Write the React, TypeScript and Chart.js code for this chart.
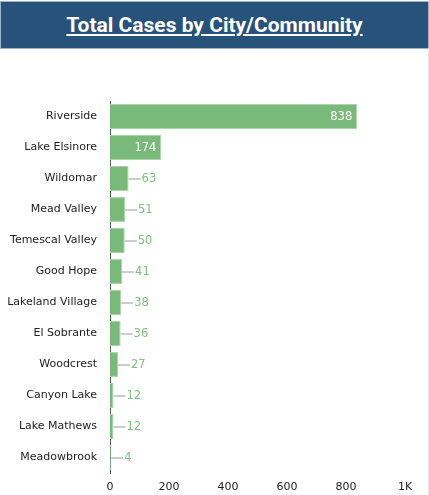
import React, { useEffect, useRef } from "react";
import { Chart, registerables } from "chart.js";
Chart.register(...registerables);

const title = "Total Cases by City/Community";
const cities = [
  "Riverside",
  "Lake Elsinore",
  "Wildomar",
  "Mead Valley",
  "Temescal Valley",
  "Good Hope",
  "Lakeland Village",
  "El Sobrante",
  "Woodcrest",
  "Canyon Lake",
  "Lake Mathews",
  "Meadowbrook",
];
const cases = [838, 174, 63, 51, 50, 41, 38, 36, 27, 12, 12, 4];
const xMin = 0;
const xMax = 1000;
const xStep = 200;

const BAR = "#79b979";
const LABEL_FONT = "11.5px 'DejaVu Sans'";

const labelPlugin = {
  id: "barLabels",
  afterDatasetsDraw(chart: any) {
    const ctx = chart.ctx;
    const meta = chart.getDatasetMeta(0);
    ctx.save();
    ctx.font = LABEL_FONT;
    ctx.textBaseline = "middle";
    meta.data.forEach((bar: any, i: number) => {
      const text = String(cases[i]);
      const w = ctx.measureText(text).width;
      const barW = bar.x - bar.base;
      if (barW > w + 14) {
        ctx.fillStyle = "#ffffff";
        ctx.textAlign = "right";
        ctx.fillText(text, bar.x - 5, bar.y + 1);
      } else {
        ctx.strokeStyle = "#bdbdbd";
        ctx.lineWidth = 1.5;
        ctx.beginPath();
        ctx.moveTo(bar.x, bar.y + 0.5);
        ctx.lineTo(bar.x + 12, bar.y + 0.5);
        ctx.stroke();
        ctx.fillStyle = "#7cc27c";
        ctx.textAlign = "left";
        ctx.fillText(text, bar.x + 13, bar.y + 1);
      }
    });
    ctx.restore();
  },
};

export default function App() {
  const ref = useRef<HTMLCanvasElement>(null);
  useEffect(() => {
    if (!ref.current) return;
    const chart = new Chart(ref.current, {
      type: "bar",
      data: {
        labels: cities,
        datasets: [
          {
            data: cases,
            backgroundColor: BAR,
            borderColor: "#a9d6a9",
            borderWidth: 1,
            categoryPercentage: 0.8,
            barPercentage: 1,
          },
        ],
      },
      options: {
        indexAxis: "y",
        animation: false,
        responsive: false,
        maintainAspectRatio: false,
        layout: { padding: { top: 53, right: 24, bottom: 0, left: 0 } },
        plugins: {
          legend: { display: false },
          tooltip: { enabled: false },
        },
        scales: {
          x: {
            min: xMin,
            max: xMax,
            grid: { display: false, drawTicks: false },
            border: { display: false },
            ticks: {
              stepSize: xStep,
              padding: 8,
              color: "#222",
              font: { family: "'DejaVu Sans'", size: 11 },
              callback: (v: any) => (v >= 1000 ? v / 1000 + "K" : String(v)),
            },
            afterFit: (s: any) => {
              s.height = 22;
            },
          },
          y: {
            grid: { display: false, drawTicks: false },
            border: { display: true, color: "#555", width: 1 },
            ticks: {
              padding: 13,
              color: "#222",
              font: { family: "'DejaVu Sans'", size: 11 },
            },
            afterFit: (s: any) => {
              s.width = 110;
            },
          },
        },
      },
      plugins: [labelPlugin],
    });
    return () => chart.destroy();
  }, []);

  return (
    <div
      style={{
        position: "absolute",
        left: 0,
        top: 0,
        width: 429,
        height: 495,
        background: "#fff",
        overflow: "hidden",
      }}
    >
      <div
        style={{
          position: "absolute",
          left: 0,
          top: 1,
          width: 427,
          height: 46,
          background: "#27527a",
          border: "1px solid #9fb3c8",
          display: "flex",
          alignItems: "center",
          justifyContent: "center",
        }}
      >
        <span
          style={{
            color: "#fff",
            fontFamily: "Roboto, sans-serif",
            fontWeight: 700,
            fontSize: 21,
            textDecoration: "underline",
            textUnderlineOffset: 2,
          }}
        >
          {title}
        </span>
      </div>
      <div
        style={{
          position: "absolute",
          left: 428,
          top: 48,
          width: 1,
          height: 447,
          background: "#e6ebf0",
        }}
      />
      <canvas
        ref={ref}
        width={429}
        height={447}
        style={{ position: "absolute", left: 0, top: 48, width: 429, height: 447 }}
      />
    </div>
  );
}
